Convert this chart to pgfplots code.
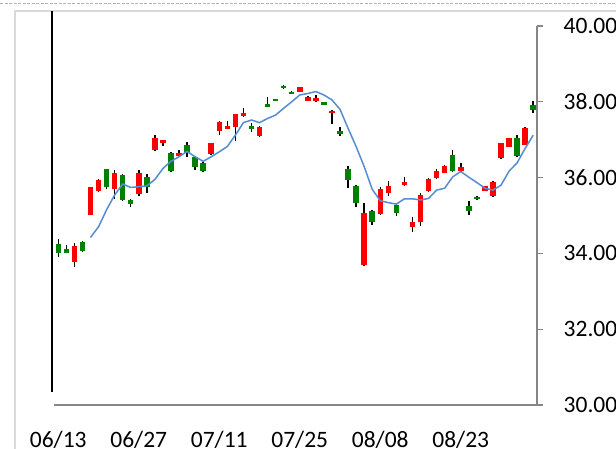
\documentclass[border=0pt]{standalone}
\usepackage{pgfplots}
\pgfplotsset{compat=1.18}
\usepackage{fontspec}
\setmainfont{Carlito}
\definecolor{axgray}{RGB}{134,134,134}
\definecolor{frgray}{RGB}{217,217,217}
\definecolor{cred}{RGB}{255,0,0}
\definecolor{cgreen}{RGB}{0,128,0}
\definecolor{mablue}{RGB}{84,141,212}
\begin{document}
\begin{tikzpicture}
\useasboundingbox (0,0) rectangle (616bp,449bp);
\fill[white] (0,0) rectangle (616bp,449bp);
\draw[frgray, line width=1.3bp] (15bp,0) -- (15bp,438bp) -- (616bp,438bp);
\draw[gray!60, dash pattern=on 3bp off 1.5bp, line width=1.5bp] (0,445.5bp) -- (616bp,445.5bp);
\draw[black, line width=1.5bp] (52bp,438bp) -- (52bp,57bp);
\begin{axis}[
  at={(54bp,44bp)}, anchor=south west,
  scale only axis, width=483bp, height=379bp,
  xmin=-0.53, xmax=59.47, ymin=30, ymax=40,
  axis x line*=bottom, axis y line*=right,
  axis line style={axgray, line width=1.3bp},
  xtick={0,10,20,30,40,50},
  xticklabels={06/13,06/27,07/11,07/25,08/08,08/23},
  x tick style={draw=none},
  ytick={30,32,34,36,38,40},
  y tick style={axgray, line width=1.3bp},
  tick align=outside, major tick length=6bp,
  /pgf/number format/assume math mode=true,
  y tick label style={/pgf/number format/.cd, fixed, fixed zerofill, precision=2, /tikz/.cd},
  tick label style={font=\fontsize{23.5bp}{28bp}\selectfont, inner sep=0pt},
  xticklabel style={anchor=base, yshift=-36.5bp},
  yticklabel style={anchor=west, xshift=20.5bp},
  unbounded coords=jump,
  clip=false,
]
% wicks
\addplot[black, line width=1.5bp, line cap=butt] coordinates {
(0,33.90)(0,34.37)(0,nan)
(1,34.00)(1,34.22)(1,nan)
(2,33.65)(2,34.28)(2,nan)
(3,34.05)(3,34.32)(3,nan)
(4,35.00)(4,35.76)(4,nan)
(5,35.63)(5,35.96)(5,nan)
(6,35.69)(6,36.23)(6,nan)
(7,35.43)(7,36.20)(7,nan)
(8,35.38)(8,36.10)(8,nan)
(9,35.23)(9,35.43)(9,nan)
(10,35.51)(10,36.20)(10,nan)
(11,35.60)(11,36.10)(11,nan)
(12,36.70)(12,37.12)(12,nan)
(13,36.83)(13,37.00)(13,nan)
(14,36.15)(14,36.68)(14,nan)
(15,36.56)(15,36.72)(15,nan)
(16,36.55)(16,36.93)(16,nan)
(17,36.20)(17,36.57)(17,nan)
(18,36.15)(18,36.42)(18,nan)
(19,36.60)(19,36.92)(19,nan)
(20,37.12)(20,37.50)(20,nan)
(21,37.28)(21,37.50)(21,nan)
(22,36.97)(22,37.69)(22,nan)
(23,37.60)(23,37.83)(23,nan)
(24,37.21)(24,37.45)(24,nan)
(25,37.08)(25,37.35)(25,nan)
(26,37.85)(26,38.12)(26,nan)
(27,38.01)(27,38.08)(27,nan)
(28,38.35)(28,38.44)(28,nan)
(29,38.20)(29,38.28)(29,nan)
(30,38.25)(30,38.40)(30,nan)
(31,38.01)(31,38.14)(31,nan)
(32,38.00)(32,38.18)(32,nan)
(33,37.91)(33,38.00)(33,nan)
(34,37.41)(34,37.78)(34,nan)
(35,37.10)(35,37.34)(35,nan)
(36,35.72)(36,36.31)(36,nan)
(37,35.23)(37,35.80)(37,nan)
(38,33.68)(38,35.32)(38,nan)
(39,34.75)(39,35.15)(39,nan)
(40,35.02)(40,35.75)(40,nan)
(41,35.51)(41,35.91)(41,nan)
(42,34.99)(42,35.34)(42,nan)
(43,35.79)(43,36.01)(43,nan)
(44,34.57)(44,34.95)(44,nan)
(45,34.72)(45,35.59)(45,nan)
(46,35.63)(46,36.00)(46,nan)
(47,35.97)(47,36.22)(47,nan)
(48,36.11)(48,36.33)(48,nan)
(49,36.16)(49,36.73)(49,nan)
(50,36.16)(50,36.39)(50,nan)
(51,35.01)(51,35.38)(51,nan)
(52,35.42)(52,35.51)(52,nan)
(53,35.64)(53,35.79)(53,nan)
(54,35.50)(54,35.90)(54,nan)
(55,36.50)(55,36.92)(55,nan)
(56,36.80)(56,37.05)(56,nan)
(57,36.55)(57,37.12)(57,nan)
(58,36.85)(58,37.33)(58,nan)
(59,37.70)(59,38.03)
};
% red (up) bodies
\addplot[cred, line width=5.5bp, line cap=butt] coordinates {
(2,33.78)(2,34.20)(2,nan)
(4,35.01)(4,35.74)(4,nan)
(5,35.65)(5,35.94)(5,nan)
(7,35.69)(7,36.11)(7,nan)
(10,35.56)(10,36.11)(10,nan)
(12,36.73)(12,37.04)(12,nan)
(13,36.90)(13,36.99)(13,nan)
(15,36.58)(15,36.66)(15,nan)
(19,36.62)(19,36.90)(19,nan)
(20,37.24)(20,37.48)(20,nan)
(21,37.29)(21,37.37)(21,nan)
(22,37.34)(22,37.67)(22,nan)
(23,37.63)(23,37.71)(23,nan)
(25,37.10)(25,37.33)(25,nan)
(30,38.27)(30,38.38)(30,nan)
(31,38.02)(31,38.13)(31,nan)
(32,38.01)(32,38.09)(32,nan)
(34,37.70)(34,37.76)(34,nan)
(38,33.69)(38,35.06)(38,nan)
(40,35.04)(40,35.69)(40,nan)
(41,35.60)(41,35.78)(41,nan)
(43,35.80)(43,35.88)(43,nan)
(44,34.69)(44,34.82)(44,nan)
(45,34.84)(45,35.54)(45,nan)
(46,35.65)(46,35.95)(46,nan)
(47,35.99)(47,36.17)(47,nan)
(48,36.13)(48,36.31)(48,nan)
(50,36.18)(50,36.27)(50,nan)
(53,35.65)(53,35.78)(53,nan)
(54,35.51)(54,35.89)(54,nan)
(55,36.51)(55,36.90)(55,nan)
(56,36.82)(56,37.04)(56,nan)
(58,36.86)(58,37.32)
};
% green (down) bodies
\addplot[cgreen, line width=5.5bp, line cap=butt] coordinates {
(0,34.02)(0,34.25)(0,nan)
(1,34.02)(1,34.11)(1,nan)
(3,34.07)(3,34.31)(3,nan)
(6,35.76)(6,36.22)(6,nan)
(8,35.41)(8,36.07)(8,nan)
(9,35.30)(9,35.41)(9,nan)
(11,35.74)(11,36.02)(11,nan)
(14,36.17)(14,36.66)(14,nan)
(16,36.64)(16,36.86)(16,nan)
(17,36.27)(17,36.55)(17,nan)
(18,36.18)(18,36.39)(18,nan)
(24,37.29)(24,37.37)(24,nan)
(26,37.87)(26,37.94)(26,nan)
(27,38.02)(27,38.07)(27,nan)
(28,38.36)(28,38.43)(28,nan)
(29,38.21)(29,38.27)(29,nan)
(33,37.92)(33,37.99)(33,nan)
(35,37.14)(35,37.23)(35,nan)
(36,35.94)(36,36.22)(36,nan)
(37,35.32)(37,35.78)(37,nan)
(39,34.84)(39,35.12)(39,nan)
(42,35.07)(42,35.28)(42,nan)
(49,36.18)(49,36.60)(49,nan)
(51,35.12)(51,35.25)(51,nan)
(52,35.43)(52,35.50)(52,nan)
(57,36.57)(57,37.04)(57,nan)
(59,37.78)(59,37.92)
};
% 5-day moving average
\addplot[mablue, line width=1.5bp] coordinates {
(4,34.42)(5,34.70)(6,35.15)(7,35.54)(8,35.83)(9,35.74)(10,35.76)(11,35.78)
(12,35.95)(13,36.24)(14,36.43)(15,36.55)(16,36.69)(17,36.55)(18,36.43)(19,36.55)
(20,36.68)(21,36.82)(22,37.12)(23,37.45)(24,37.52)(25,37.45)(26,37.56)(27,37.65)
(28,37.83)(29,38.00)(30,38.18)(31,38.22)(32,38.27)(33,38.18)(34,38.05)(35,37.80)
(36,37.30)(37,36.82)(38,36.29)(39,35.69)(40,35.39)(41,35.34)(42,35.30)(43,35.44)
(44,35.44)(45,35.41)(46,35.45)(47,35.67)(48,35.72)(49,36.02)(50,36.16)(51,36.01)
(52,35.87)(53,35.72)(54,35.67)(55,35.80)(56,36.17)(57,36.39)(58,36.77)(59,37.12)
};
\end{axis}
\end{tikzpicture}
\end{document}
